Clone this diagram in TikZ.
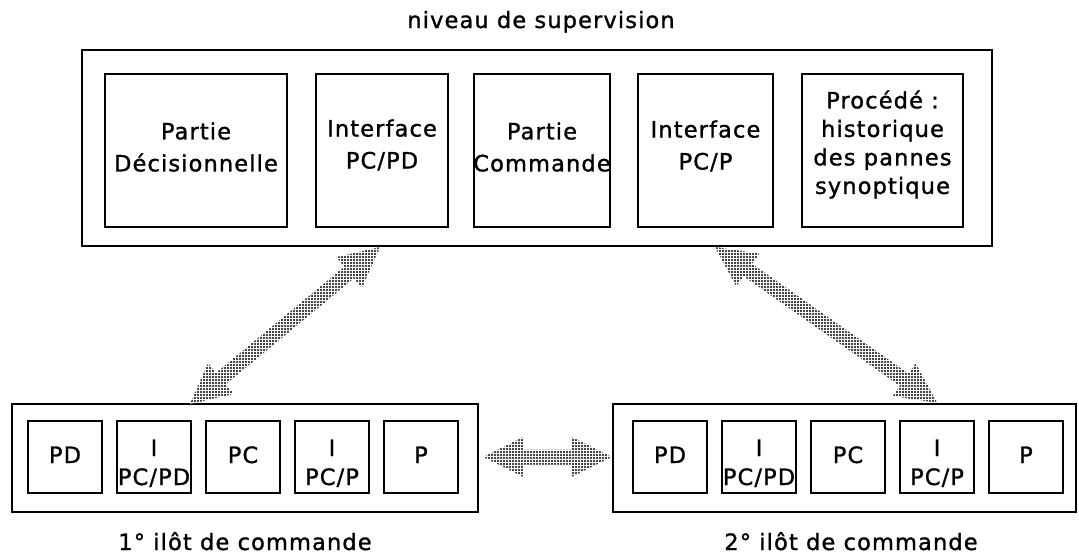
\documentclass[tikz,border=0pt]{standalone}
\usepackage{fontspec}
\newfontfamily\labfont[LetterSpace=5,FakeBold=1.2]{DejaVu Sans}
\usetikzlibrary{calc,patterns.meta}

% halftone screen used for the wide arrows
\tikzdeclarepattern{
  name=halftone,
  type=uncolored,
  bottom left={(-1.5pt,-1.5pt)},
  top right={(1.5pt,1.5pt)},
  tile size={(3pt,3pt)},
  code={\fill (0pt,0pt) circle [radius=1.05pt];}
}

% wide double-headed arrow between two named points
% #1: prefix for helper coordinates, #2: one end, #3: other end
\newcommand\fatarrow[3]{%
  \coordinate (#1s) at ($(#2)!40pt!(#3)$);
  \coordinate (#1e) at ($(#3)!40pt!(#2)$);
  \path[halftonefill] (#2)
    -- ($(#1s)!20pt!90:(#3)$) -- ($(#1s)!7.5pt!90:(#3)$)
    -- ($(#1e)!7.5pt!-90:(#2)$) -- ($(#1e)!20pt!-90:(#2)$)
    -- (#3)
    -- ($(#1e)!20pt!90:(#2)$) -- ($(#1e)!7.5pt!90:(#2)$)
    -- ($(#1s)!7.5pt!-90:(#3)$) -- ($(#1s)!20pt!-90:(#3)$)
    -- cycle;
}

\begin{document}
\begin{tikzpicture}[x=1pt,y=-1pt,
  box/.style={draw, line width=2.6pt, inner sep=0pt},
  txt/.style={font=\labfont\fontsize{22.5}{32}\selectfont, align=center, inner sep=0pt},
  halftonefill/.style={preaction={fill=white}, pattern=halftone, pattern color=black}]

\useasboundingbox (0,0) rectangle (1079,554);

% supervision level
\node[txt, anchor=base] (title) at (541,28) {niveau de supervision};
\node[box, minimum width=910, minimum height=196] (top) at (537,148) {};
\node[box, minimum width=182, minimum height=153] (b1) at (196,150.5) {};
\node[box, minimum width=132, minimum height=153] (b2) at (382,150.5) {};
\node[box, minimum width=136, minimum height=153] (b3) at (542,150.5) {};
\node[box, minimum width=135, minimum height=153] (b4) at (705.5,150.5) {};
\node[box, minimum width=161, minimum height=153] (b5) at (882.5,150.5) {};
\node[txt] (t1) at (196,147) {Partie\\Décisionnelle};
\node[txt] (t2) at (382,145) {Interface\\PC/PD};
\node[txt] (t3) at (542,147) {Partie\\Commande};
\node[txt] (t4) at (705.5,146) {Interface\\PC/P};
\node[txt, font=\labfont\fontsize{22.5}{28.5}\selectfont] (t5) at (882.5,144.5)
  {Procédé :\\historique\\des pannes\\synoptique};

% first command island
\node[box, minimum width=466, minimum height=108] (il) at (245,458) {};
\foreach \n/\x in {1/65,2/154,3/243,4/332,5/421}
  \node[box, minimum width=74, minimum height=72] (l\n) at (\x,457) {};
% second command island
\node[box, minimum width=463, minimum height=108] (ir) at (844.5,458) {};
\foreach \n/\x in {1/670,2/759,3/848,4/937,5/1026}
  \node[box, minimum width=74, minimum height=72] (r\n) at (\x,457) {};

% contents of the island modules
\foreach \s in {l,r}{
  \node[txt, anchor=base] (\s pd) at (\s1 |- 0,463) {PD};
  \node[txt, anchor=base] (\s ia) at (\s2 |- 0,456) {I};
  \node[txt, anchor=base] (\s ib) at (\s2 |- 0,485) {PC/PD};
  \node[txt, anchor=base] (\s pc) at (\s3 |- 0,463) {PC};
  \node[txt, anchor=base] (\s ja) at (\s4 |- 0,456) {I};
  \node[txt, anchor=base] (\s jb) at (\s4 |- 0,485) {PC/P};
  \node[txt, anchor=base] (\s p) at (\s5 |- 0,463) {P};
}

\node[txt, anchor=base] (cap1) at (245,550) {1° ilôt de commande};
\node[txt, anchor=base] (cap2) at (851,550) {2° ilôt de commande};

% exchanges between the levels
\coordinate (u1) at (380,247);
\coordinate (d1) at (190,404);
\coordinate (u2) at (715,247);
\coordinate (d2) at (r4 |- ir.north);
\coordinate (h1) at ($(il.east)+(4,-1)$);
\coordinate (h2) at ($(ir.west)+(0,-1)$);
\fatarrow{aa}{u1}{d1}
\fatarrow{bb}{u2}{d2}
\fatarrow{cc}{h1}{h2}
\end{tikzpicture}
\end{document}
